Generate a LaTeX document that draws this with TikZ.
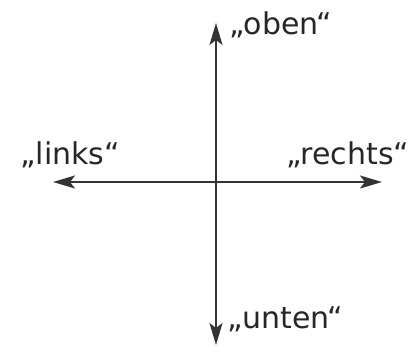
\documentclass[tikz,border=0pt]{standalone}
\usepackage{fontspec}
\setmainfont{DejaVu Sans}
\usetikzlibrary{arrows.meta}
\begin{document}
\begin{tikzpicture}[x=1bp,y=-1bp,
  axis/.style={draw=black!80, line width=2bp, -{Stealth[length=22bp,width=13bp,inset=5bp]}},
  lab/.style={anchor=base west, inner sep=0pt, font=\fontsize{30bp}{34bp}\selectfont, text=black!85}]
\useasboundingbox (0,0) rectangle (412,358);
\coordinate (c) at (216,182);
\coordinate (top) at (216,23);
\coordinate (bot) at (216,345);
\coordinate (lft) at (53,182);
\coordinate (rgt) at (382,182);
\draw[axis] (c) -- (top);
\draw[axis] (c) -- (bot);
\draw[axis] (c) -- (lft);
\draw[axis] (c) -- (rgt);
\node[lab] (oben) at (229,34) {„oben“};
\node[lab] (links) at (20,164) {„links“};
\node[lab] (rechts) at (286,164) {„rechts“};
\node[lab] (unten) at (227,328) {„unten“};
\end{tikzpicture}
\end{document}
